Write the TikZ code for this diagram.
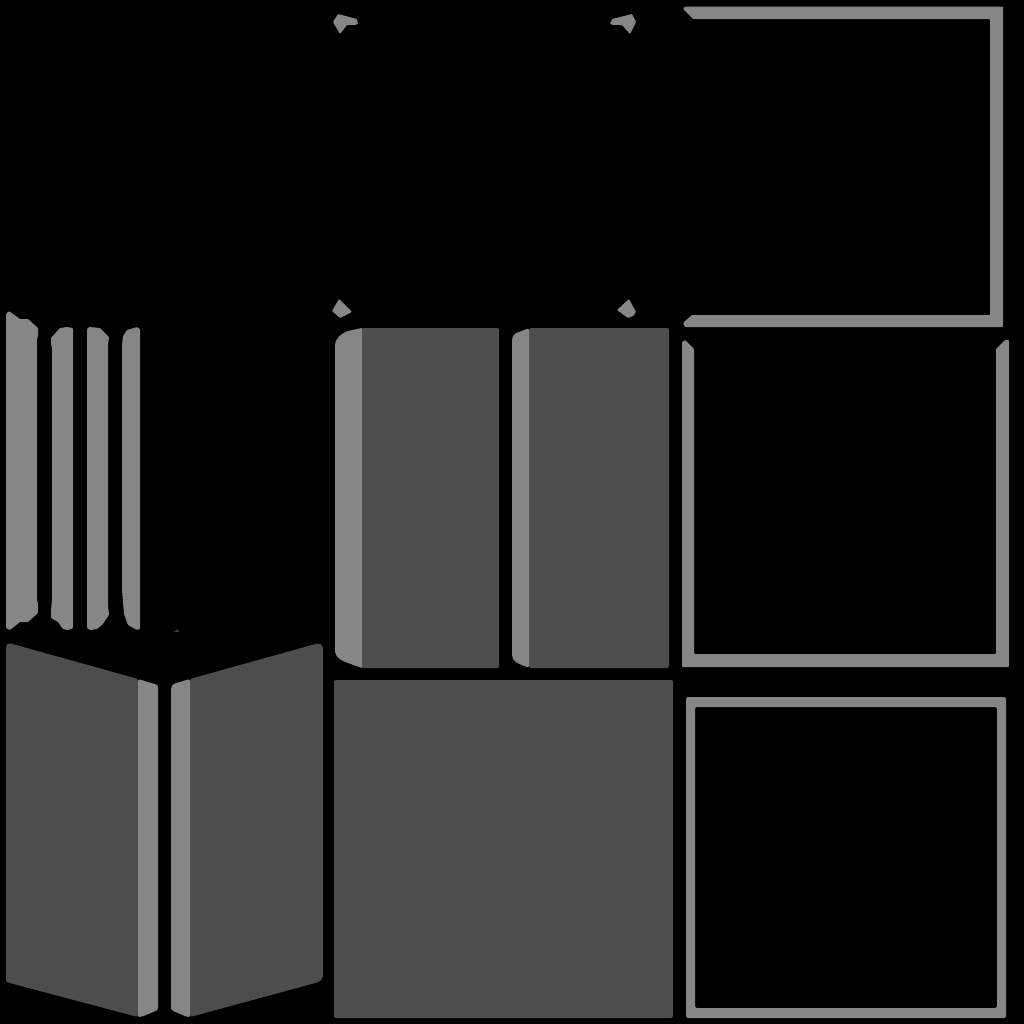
\documentclass[tikz,border=0pt]{standalone}
\definecolor{facedark}{HTML}{4D4D4B}
\definecolor{facelight}{HTML}{868686}
\definecolor{speck}{HTML}{3A3A3A}
\tikzset{
  dark/.style={fill=facedark,rounded corners=0.6pt},
  light/.style={fill=facelight,rounded corners=0.6pt},
  sharp/.style={fill=facelight,rounded corners=0.25pt}
}
\begin{document}
\begin{tikzpicture}[x=0.01cm,y=-0.01cm]
\fill[black] (0,0) rectangle (1024,1024);
% thin strips, left
\fill[sharp] (6,314)--(9,311)--(20,319)--(28,319)--(38,328)--(38,335)--(37,340)--(37,600)--(38,603)--(38,613)--(28,622)--(20,622)--(10,630)--(6,628)--cycle;
\fill[sharp] (51,338)--(60,328)--(67,327)--(73,328)--(73,628)--(68,630)--(63,629)--(58,622)--(51,618)--(51,610)--(52,600)--(52,348)--(51,344)--cycle;
\fill[sharp] (87,329)--(89,327)--(100,328)--(109,337)--(108,345)--(108,605)--(109,615)--(102,625)--(97,629)--(90,630)--(87,628)--cycle;
\fill[sharp] (122,345)--(123,336)--(127,330)--(137,327)--(140,329)--(140,629)--(137,630)--(128,625)--(124,614)--(122,590)--cycle;
\fill[speck] (173,632)--(178,629)--(179,632)--cycle;
% slanted panels
\fill[dark] (6,645)--(9,643)--(138,679)--(138,1017)--(6,982)--cycle;
\fill[light] (138,679)--(158,685)--(158,1010)--(141,1017)--(138,1017)--cycle;
\fill[dark] (190,679)--(319,643)--(323,646)--(323,978)--(319,982)--(190,1017)--cycle;
\fill[light] (171,687)--(173,684)--(190,679)--(190,1017)--(187,1017)--(171,1010)--cycle;
% middle panels
\fill[dark] (362,328)--(499,328)--(499,668)--(362,668)--cycle;
\fill[facelight] (362,328)--(348,331) .. controls (342,333) and (335,338) .. (335,346)--(335,652) .. controls (336,658) and (342,661) .. (348,663)--(362,668)--cycle;
\fill[dark] (529,328)--(669,328)--(669,668)--(529,668)--cycle;
\fill[light] (529,328)--(514,334)--(512,338)--(512,657)--(515,662)--(529,668)--cycle;
\fill[dark] (334,680) rectangle (673,1018);
% corner bits
\fill[sharp] (333,22)--(338,14)--(357,19)--(358,24)--(355,25)--(347,25)--(340,34)--cycle;
\fill[sharp] (610,24)--(612,19)--(632,14)--(636,22)--(630,34)--(622,25)--(613,25)--cycle;
\fill[sharp] (332,311)--(339,299)--(352,312)--(340,318)--cycle;
\fill[sharp] (617,310)--(629,299)--(636,312)--(633,316)--(628,318)--cycle;
% frames, right
\fill[sharp] (683,9)--(685,6.5)--(1003,6.5)--(1003,327)--(685,327)--(683,323)--(692,315)--(990,315)--(990,19)--(693,19)--cycle;
\fill[sharp] (682,342)--(685,340)--(694,349)--(694,654)--(996,654)--(996,349)--(1005,340)--(1009,340)--(1009,667)--(682,667)--cycle;
\fill[light,even odd rule] (686,697) rectangle (1006,1018) (695,707) rectangle (997,1008);
\end{tikzpicture}
\end{document}
